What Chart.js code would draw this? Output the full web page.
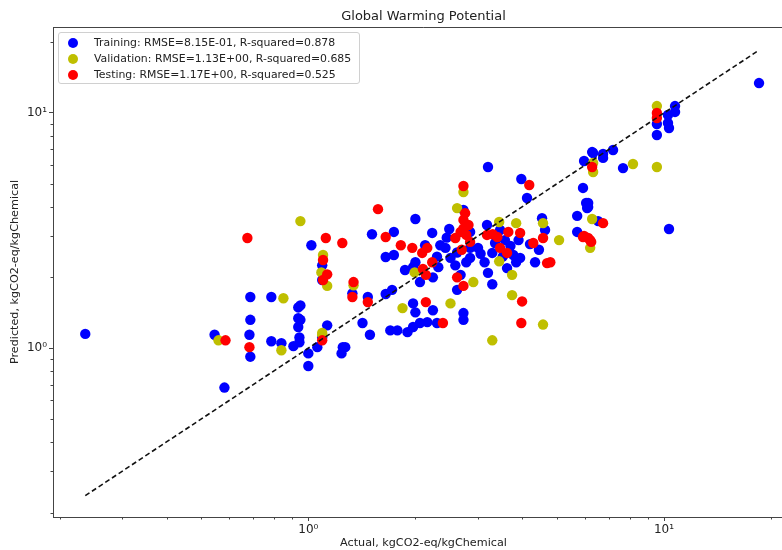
<!doctype html>
<html lang="en">
<head>
<meta charset="utf-8">
<title>Global Warming Potential</title>
<style>
  body { margin: 0; overflow: hidden; background: #fff; }
  #wrap { position: relative; width: 800px; height: 550px; }
  #legend {
    position: absolute; left: 58px; top: 32px; width: 300px; height: 50px;
    border: 1px solid #d0d0d0; border-radius: 3px; background: rgba(255,255,255,0.85);
    font-family: "DejaVu Sans", sans-serif; font-size: 10.9px; color: #222;
  }
  #legend div { position: absolute; left: 0; height: 16px; line-height: 16px; white-space: nowrap; }
  #legend span.dot { position: absolute; left: 9px; top: 3px; width: 10px; height: 10px; border-radius: 50%; }
  #legend span.txt { position: absolute; left: 35px; }
</style>
</head>
<body>
<div id="wrap">
  <canvas id="chart" width="800" height="550"></canvas>
  <div id="legend"></div>
</div>
<script src="https://cdn.jsdelivr.net/npm/chart.js"></script>
<script>
const trainActual = [0.236, 0.545, 0.581, 0.687, 0.787, 0.937, 0.937, 0.937, 0.687, 0.683,
  0.687, 0.787, 0.84, 0.908, 0.944, 0.944, 1.0, 1.0, 1.06, 1.094,
  1.13, 1.24, 1.27, 1.42, 1.02, 1.094, 1.094, 1.33, 3.20, 3.97,
  4.12, 2.73, 2.0, 1.51, 1.74, 2.23, 2.49, 1.65, 1.74, 2.0,
  1.97, 2.32, 2.24, 2.62, 3.20, 3.29, 3.18, 3.46, 3.77, 3.29,
  4.54, 4.63, 4.20, 5.70, 5.92, 6.04, 6.08, 6.53, 5.70, 6.32,
  5.96, 1.47, 1.65, 1.72, 1.97, 2.0, 2.24, 2.73, 2.73, 2.30,
  2.16, 2.06, 1.97, 1.90, 1.78, 1.70, 1.49, 1.25, 0.95, 0.95,
  18.5, 10.74, 10.74, 10.26, 9.55, 10.26, 10.33, 9.55, 6.28, 6.74,
  6.74, 7.19, 7.67, 6.12, 6.12, 10.33, 2.43, 2.51, 2.59, 2.68,
  2.78, 2.85, 2.35, 2.13, 1.87, 2.06, 3.57, 3.90, 3.84, 3.62,
  3.0, 3.13, 4.34, 3.94, 2.85, 2.85, 3.05, 3.35, 3.52, 4.45,
  2.45, 2.62, 2.30, 3.70]
const trainPredicted = [1.15, 1.14, 0.68, 1.65, 1.65, 1.49, 1.34, 1.23, 1.32, 1.14,
  0.92, 1.07, 1.05, 1.02, 1.06, 1.11, 0.95, 0.84, 1.01, 1.11,
  1.25, 0.95, 1.01, 1.28, 2.74, 2.25, 1.95, 1.71, 5.89, 5.24,
  4.35, 3.87, 3.54, 3.05, 3.12, 3.09, 3.21, 2.44, 2.49, 2.32,
  2.21, 2.21, 2.00, 1.77, 2.09, 1.87, 3.34, 3.18, 2.49, 2.54,
  3.57, 3.18, 2.77, 3.65, 4.80, 4.14, 3.94, 3.47, 3.12, 6.76,
  6.25, 1.65, 1.70, 1.77, 1.55, 1.42, 1.45, 1.41, 1.32, 1.28,
  1.29, 1.28, 1.23, 1.17, 1.19, 1.19, 1.14, 1.01, 1.52, 1.32,
  13.4, 10.7, 10.1, 9.8, 8.98, 9.06, 8.63, 8.06, 6.82, 6.69,
  6.44, 6.96, 5.83, 4.14, 3.98, 3.21, 2.67, 2.42, 2.25, 2.05,
  2.32, 2.67, 2.74, 2.74, 2.15, 1.91, 2.88, 2.88, 2.32, 2.19,
  2.67, 2.32, 2.32, 2.42, 3.12, 2.42, 2.52, 2.80, 2.45, 2.62,
  2.95, 2.55, 2.45, 2.72]

const valActual = [0.559, 0.851, 0.84, 1.094, 1.10, 1.088, 1.13, 0.95, 2.73, 2.62,
  1.99, 2.91, 3.74, 3.74, 3.44, 3.84, 3.44, 4.57, 5.07, 6.28,
  6.20, 6.32, 6.32, 1.34, 1.094, 1.84, 2.51, 4.57, 3.29, 9.55,
  8.18, 9.55]
const valPredicted = [1.08, 1.63, 0.98, 1.14, 2.49, 2.10, 1.84, 3.47, 4.61, 3.94,
  2.10, 1.91, 2.05, 1.68, 3.44, 3.40, 2.34, 3.40, 2.88, 3.54,
  2.67, 6.13, 5.61, 1.85, 1.16, 1.48, 1.55, 1.26, 1.08, 10.7,
  6.07, 5.89]

const testActual = [0.585, 0.683, 0.674, 1.12, 1.246, 1.10, 1.13, 1.10, 1.34, 1.33,
  1.094, 1.57, 1.65, 1.82, 1.96, 2.09, 2.16, 2.10, 2.23, 2.14,
  2.62, 2.73, 2.73, 4.18, 2.59, 2.73, 2.73, 2.78, 2.85, 2.68,
  2.82, 3.18, 3.40, 3.65, 3.94, 3.46, 3.62, 4.57, 4.29, 4.69,
  3.99, 3.97, 2.39, 2.14, 1.47, 5.96, 6.20, 6.28, 6.74, 5.92,
  6.12, 6.24, 4.79, 9.55, 9.55, 2.76, 2.70, 3.30]
const testPredicted = [1.08, 1.01, 2.94, 2.94, 2.80, 2.37, 2.06, 1.95, 1.91, 1.65,
  1.08, 3.90, 2.97, 2.74, 2.67, 2.54, 2.67, 2.17, 2.32, 2.05,
  2.00, 1.84, 4.89, 4.94, 2.94, 3.51, 3.23, 3.03, 2.83, 3.12,
  3.34, 3.03, 2.97, 3.12, 3.09, 2.67, 2.54, 2.94, 2.80, 2.30,
  1.58, 1.28, 1.28, 1.57, 1.57, 3.00, 2.88, 5.89, 3.40, 2.97,
  2.94, 2.83, 2.32, 10.0, 9.52, 3.75, 2.62, 3.05]

const parityEnds = [0.236, 18.5]

const legendLabels = [
  'Training: RMSE=8.15E-01, R-squared=0.878',
  'Validation: RMSE=1.13E+00, R-squared=0.685',
  'Testing: RMSE=1.17E+00, R-squared=0.525'
]
const seriesColors = ['#0000ff', '#bfbf00', '#ff0000']

const majorTicks = [1, 10]
const majorLabels = ['10⁰', '10¹']
const minorTicks = [0.2, 0.3, 0.4, 0.5, 0.6, 0.7, 0.8, 0.9, 2, 3, 4, 5, 6, 7, 8, 9, 20]

const axisMin = 0.1915
const axisMax = 23.2

const pairs = (xs, ys) => xs.map((x, i) => ({ x: x, y: ys[i] }))

document.getElementById('legend').innerHTML = legendLabels
  .map((label, i) => `
    <div style="top:${2 + i * 16}px">
      <span class="dot" style="background:${seriesColors[i]}"></span>
      <span class="txt">${label}</span>
    </div>`)
  .join('')

const frame = {
  id: 'frame',
  afterDraw(chart) {
    const { ctx, chartArea } = chart
    ctx.save()
    ctx.strokeStyle = '#444'
    ctx.lineWidth = 1
    ctx.beginPath()
    ctx.moveTo(chartArea.left, chartArea.top + 0.5)
    ctx.lineTo(chartArea.right + 0.5, chartArea.top + 0.5)
    ctx.lineTo(chartArea.right + 0.5, chartArea.bottom)
    ctx.stroke()
    // minor ticks, shorter than the major ones
    const xs = chart.scales.x
    const ys = chart.scales.y
    ctx.beginPath()
    minorTicks.forEach((v) => {
      const px = Math.round(xs.getPixelForValue(v)) + 0.5
      if (px > chartArea.left && px < chartArea.right) {
        ctx.moveTo(px, chartArea.bottom)
        ctx.lineTo(px, chartArea.bottom + 2.5)
      }
      const py = Math.round(ys.getPixelForValue(v)) + 0.5
      if (py > chartArea.top && py < chartArea.bottom) {
        ctx.moveTo(chartArea.left, py)
        ctx.lineTo(chartArea.left - 2.5, py)
      }
    })
    ctx.stroke()
    ctx.restore()
  }
}

const logAxis = (title, fitKey, fitValue, titlePadding) => ({
  type: 'logarithmic',
  min: axisMin,
  max: axisMax,
  afterBuildTicks(scale) {
    scale.ticks = majorTicks.map((v) => ({ value: v }))
  },
  afterFit(scale) {
    scale[fitKey] = fitValue
  },
  ticks: {
    autoSkip: false,
    maxRotation: 0,
    padding: 2,
    color: '#222',
    font: { family: 'DejaVu Sans', size: 12 },
    callback: (v) => majorLabels[majorTicks.indexOf(v)] || ''
  },
  grid: {
    display: true,
    drawOnChartArea: false,
    drawTicks: true,
    tickLength: 4,
    tickColor: '#444'
  },
  border: { display: true, color: '#444', width: 1 },
  title: {
    display: true,
    text: title,
    color: '#222',
    font: { family: 'DejaVu Sans', size: 11.2 },
    padding: titlePadding
  }
})

new Chart(document.getElementById('chart'), {
  type: 'scatter',
  data: {
    datasets: [
      {
        type: 'line',
        data: pairs(parityEnds, parityEnds),
        borderColor: '#111',
        borderWidth: 1.6,
        borderDash: [5, 3],
        pointRadius: 0,
        fill: false,
        order: 1
      },
      {
        label: legendLabels[2],
        data: pairs(testActual, testPredicted),
        backgroundColor: seriesColors[2],
        pointRadius: 5.2,
        pointBorderWidth: 0,
        order: 2
      },
      {
        label: legendLabels[1],
        data: pairs(valActual, valPredicted),
        backgroundColor: seriesColors[1],
        pointRadius: 5.2,
        pointBorderWidth: 0,
        order: 3
      },
      {
        label: legendLabels[0],
        data: pairs(trainActual, trainPredicted),
        backgroundColor: seriesColors[0],
        pointRadius: 5.2,
        pointBorderWidth: 0,
        order: 4
      }
    ]
  },
  options: {
    responsive: false,
    animation: false,
    devicePixelRatio: 1,
    layout: { padding: { left: 0, right: 6, top: 0, bottom: 0 } },
    scales: {
      x: logAxis('Actual, kgCO2-eq/kgChemical', 'height', 33, { top: 0, bottom: 0 }),
      y: logAxis('Predicted, kgCO2-eq/kgChemical', 'width', 53, { top: 8, bottom: 0 })
    },
    plugins: {
      legend: { display: false },
      tooltip: { enabled: false },
      title: {
        display: true,
        fullSize: false,
        text: 'Global Warming Potential',
        color: '#222',
        font: { family: 'DejaVu Sans', size: 13, weight: 'normal' },
        padding: { top: 9, bottom: 2.4 }
      }
    }
  },
  plugins: [frame]
})
</script>
</body>
</html>
